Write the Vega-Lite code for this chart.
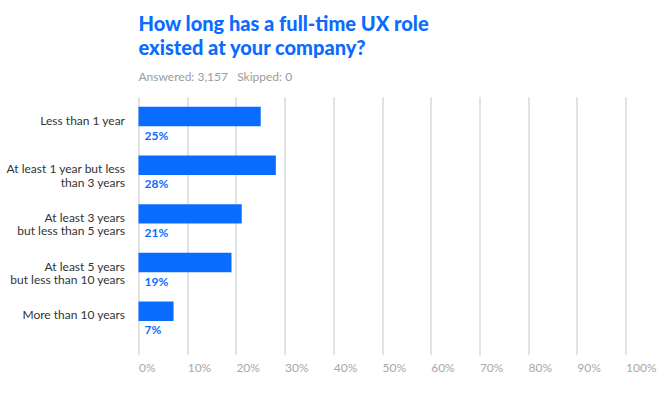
{
  "$schema": "https://vega.github.io/schema/vega-lite/v6.json",
  "width": 487,
  "height": 258,
  "autosize": {"type": "none"},
  "padding": {"left": 138.5, "top": 96.7, "right": 46.5, "bottom": 43.3},
  "background": "white",
  "title": {
    "text": ["How long has a full-time UX role", "existed at your company?"],
    "subtitle": "Answered: 3,157\u00a0\u00a0 Skipped: 0",
    "anchor": "start",
    "frame": "group",
    "font": "Lato",
    "fontSize": 20,
    "fontWeight": 900,
    "color": "#0a6cff",
    "lineHeight": 24,
    "subtitleFont": "Lato",
    "subtitleFontSize": 12,
    "subtitleColor": "#9b9b9b",
    "subtitlePadding": 13,
    "offset": 14
  },
  "config": {"view": {"stroke": null}},
  "data": {
    "values": [
      {"cat": "Less than 1 year", "v": 0.251},
      {"cat": "At least 1 year but less|than 3 years", "v": 0.282},
      {"cat": "At least 3 years|but less than 5 years", "v": 0.212},
      {"cat": "At least 5 years|but less than 10 years", "v": 0.191},
      {"cat": "More than 10 years", "v": 0.072}
    ]
  },
  "encoding": {
    "y": {
      "field": "cat",
      "type": "nominal",
      "sort": null,
      "scale": {"paddingInner": 0.6, "paddingOuter": 0.45, "align": 0.23},
      "axis": {
        "title": null,
        "domain": false,
        "ticks": false,
        "grid": false,
        "labelExpr": "split(datum.label, '|')",
        "labelFont": "Lato",
        "labelFontSize": 12,
        "labelColor": "#333333",
        "labelPadding": 14,
        "labelBaseline": "top",
        "labelLineHeight": 13.5,
        "labelOffset": -1,
        "labelLimit": 200
      }
    }
  },
  "layer": [
    {
      "mark": {"type": "bar", "color": "#0a6cff"},
      "encoding": {
        "x": {
          "field": "v",
          "type": "quantitative",
          "scale": {"domain": [0, 1], "nice": false},
          "axis": {
            "title": null,
            "format": ".0%",
            "values": [0, 0.1, 0.2, 0.3, 0.4, 0.5, 0.6, 0.7, 0.8, 0.9, 1],
            "domain": false,
            "ticks": false,
            "grid": true,
            "gridColor": "#d9d9d9",
            "gridWidth": 1.5,
            "labelAlign": "left",
            "labelFont": "Lato",
            "labelFontSize": 12,
            "labelColor": "#a8a8a8",
            "labelPadding": 8,
            "labelBaseline": "top"
          }
        }
      }
    },
    {
      "mark": {"type": "text", "align": "left", "baseline": "middle", "dx": 6, "dy": 19, "color": "#0a6cff", "font": "Lato", "fontSize": 12, "fontWeight": "bold"},
      "encoding": {
        "x": {"datum": 0},
        "text": {"field": "v", "type": "quantitative", "format": ".0%"}
      }
    }
  ]
}
